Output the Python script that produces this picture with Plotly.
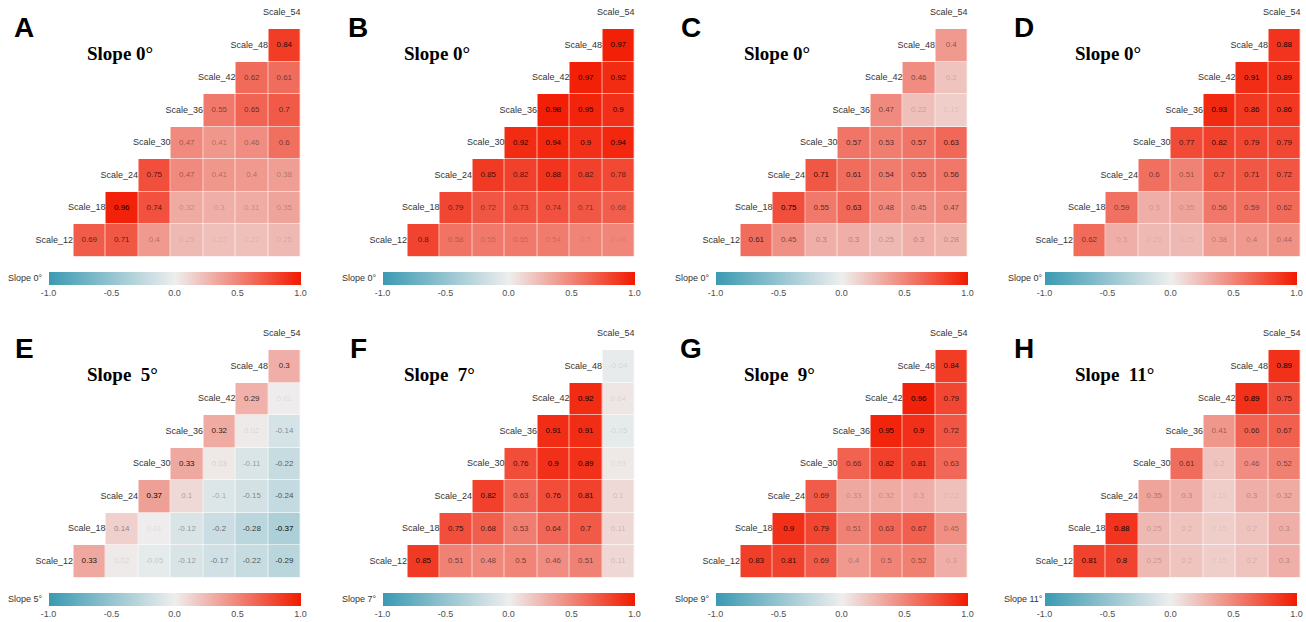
import plotly.graph_objects as go

# Variables shown along the diagonal of every panel
SCALES = ["Scale_12", "Scale_18", "Scale_24", "Scale_30",
          "Scale_36", "Scale_42", "Scale_48", "Scale_54"]
PANEL_LETTERS = ["A", "B", "C", "D", "E", "F", "G", "H"]
PANEL_TITLES = ["Slope 0°", "Slope 0°", "Slope 0°", "Slope 0°",
                "Slope\u00a0 5°", "Slope\u00a0 7°", "Slope\u00a0 9°", "Slope\u00a0 11°"]
LEGEND_TITLES = ["Slope 0°", "Slope 0°", "Slope 0°", "Slope 0°",
                 "Slope 5°", "Slope 7°", "Slope 9°", "Slope 11°"]
LEGEND_TICKS = [-1.0, -0.5, 0.0, 0.5, 1.0]
LEGEND_TICK_TEXT = ["-1.0", "-0.5", "0.0", "0.5", "1.0"]

# Correlations: one row per scale (Scale_12 ... Scale_48), each row lists
# the correlation with every following scale.
corr_A = [
    [0.69, 0.71, 0.40, 0.25, 0.22, 0.22, 0.25],
    [0.96, 0.74, 0.32, 0.30, 0.31, 0.35],
    [0.75, 0.47, 0.41, 0.40, 0.38],
    [0.47, 0.41, 0.46, 0.60],
    [0.55, 0.65, 0.70],
    [0.62, 0.61],
    [0.84],
]
corr_B = [
    [0.80, 0.58, 0.55, 0.55, 0.54, 0.50, 0.49],
    [0.79, 0.72, 0.73, 0.74, 0.71, 0.68],
    [0.85, 0.82, 0.88, 0.82, 0.78],
    [0.92, 0.94, 0.90, 0.94],
    [0.98, 0.95, 0.90],
    [0.97, 0.92],
    [0.97],
]
corr_C = [
    [0.61, 0.45, 0.30, 0.30, 0.25, 0.30, 0.28],
    [0.75, 0.55, 0.63, 0.48, 0.45, 0.47],
    [0.71, 0.61, 0.54, 0.55, 0.56],
    [0.57, 0.53, 0.57, 0.63],
    [0.47, 0.22, 0.15],
    [0.46, 0.20],
    [0.40],
]
corr_D = [
    [0.62, 0.30, 0.25, 0.25, 0.38, 0.40, 0.44],
    [0.59, 0.30, 0.35, 0.56, 0.59, 0.62],
    [0.60, 0.51, 0.70, 0.71, 0.72],
    [0.77, 0.82, 0.79, 0.79],
    [0.93, 0.86, 0.86],
    [0.91, 0.89],
    [0.88],
]
corr_E = [
    [0.33, 0.02, -0.05, -0.12, -0.17, -0.22, -0.29],
    [0.14, 0.01, -0.12, -0.20, -0.28, -0.37],
    [0.37, 0.10, -0.10, -0.15, -0.24],
    [0.33, 0.03, -0.11, -0.22],
    [0.32, 0.02, -0.14],
    [0.29, 0.01],
    [0.30],
]
corr_F = [
    [0.85, 0.51, 0.48, 0.50, 0.46, 0.51, 0.11],
    [0.75, 0.68, 0.53, 0.64, 0.70, 0.11],
    [0.82, 0.63, 0.76, 0.81, 0.10],
    [0.76, 0.90, 0.89, 0.03],
    [0.91, 0.91, -0.05],
    [0.92, 0.04],
    [-0.04],
]
corr_G = [
    [0.83, 0.81, 0.69, 0.40, 0.50, 0.52, 0.30],
    [0.90, 0.79, 0.51, 0.63, 0.67, 0.45],
    [0.69, 0.33, 0.32, 0.30, 0.22],
    [0.66, 0.82, 0.81, 0.63],
    [0.95, 0.90, 0.72],
    [0.96, 0.79],
    [0.84],
]
corr_H = [
    [0.81, 0.80, 0.25, 0.20, 0.15, 0.20, 0.30],
    [0.88, 0.25, 0.20, 0.15, 0.20, 0.30],
    [0.35, 0.30, 0.15, 0.30, 0.32],
    [0.61, 0.20, 0.46, 0.52],
    [0.41, 0.66, 0.67],
    [0.89, 0.75],
    [0.89],
]
PANELS = [corr_A, corr_B, corr_C, corr_D, corr_E, corr_F, corr_G, corr_H]

W, H = 1306, 622
CELL = 32.5
COLORSCALE = [[0.0, "#3B9AB2"], [0.5, "#EEEEEE"], [1.0, "#F21A00"]]
COL_OFFSET = [0, 334, 667, 1000]
ROW_OFFSET = [0, 321]
BAR_SHIFT = [0, 0, 0, -4]
TITLE_X = [85, 402, 742, 1073]
Y_TOP = 8.1  # leaves room for the last diagonal name above the tiles


def fx(px):
    return px / W


def fy(px):
    return 1 - px / H


fig = go.Figure()
layout_extra = {}
annotations = []
n = len(SCALES)

for k, corr in enumerate(PANELS):
    ox = COL_OFFSET[k % 4]
    oy = ROW_OFFSET[k // 4]
    sfx = "" if k == 0 else str(k + 1)
    ca = "coloraxis" + sfx

    z = [[None] * n for _ in range(n - 1)]
    tx, ty, tt, tc = [], [], [], []
    mags = [abs(v) for row in corr for v in row]
    lo, hi = min(mags), max(mags)
    for i, row in enumerate(corr):
        for m, v in enumerate(row):
            j = i + 1 + m
            z[i][j] = v
            tx.append(j + 1)
            ty.append(i + 1)
            tt.append(f"{round(v, 2):g}")
            a = 0.1 + 0.9 * (abs(v) - lo) / (hi - lo)
            tc.append(f"rgba(0,0,0,{a:.3f})")

    fig.add_trace(go.Heatmap(
        x=list(range(1, n + 1)), y=list(range(1, n)), z=z,
        coloraxis=ca, xgap=0.6, ygap=0.6, hoverongaps=False,
        xaxis="x" + sfx, yaxis="y" + sfx,
    ))
    # correlation values inside the tiles
    fig.add_trace(go.Scatter(
        x=tx, y=ty, text=tt, mode="text", cliponaxis=False,
        textfont=dict(family="Liberation Sans, Arial", size=8, color=tc),
        xaxis="x" + sfx, yaxis="y" + sfx, showlegend=False, hoverinfo="skip",
    ))
    # variable names on the diagonal
    fig.add_trace(go.Scatter(
        x=[i - 0.08 for i in range(1, n + 1)], y=list(range(1, n + 1)),
        text=SCALES, mode="text", cliponaxis=False,
        textfont=dict(family="Liberation Sans, Arial", size=9, color="#333333"),
        xaxis="x" + sfx, yaxis="y" + sfx, showlegend=False, hoverinfo="skip",
    ))

    y_bottom_px = 256.5 + oy
    y_top_px = y_bottom_px - (Y_TOP - 0.5) * CELL
    layout_extra["xaxis" + sfx] = dict(
        domain=[fx(40.5 + ox), fx(300.5 + ox)], range=[0.5, 8.5],
        visible=False, anchor="y" + sfx, fixedrange=True)
    layout_extra["yaxis" + sfx] = dict(
        domain=[fy(y_bottom_px), fy(y_top_px)], range=[0.5, Y_TOP],
        visible=False, anchor="x" + sfx, fixedrange=True)
    layout_extra[ca] = dict(
        cmin=-1, cmax=1, colorscale=COLORSCALE,
        colorbar=dict(
            orientation="h", x=fx(174.5 + ox + BAR_SHIFT[k % 4]), xanchor="center",
            y=fy(272 + oy), yanchor="top", thickness=13,
            len=252, lenmode="pixels", xpad=0, ypad=0, outlinewidth=0,
            tickvals=LEGEND_TICKS, ticktext=LEGEND_TICK_TEXT, ticks="",
            ticklabeloverflow="allow",
            tickfont=dict(family="Liberation Sans, Arial", size=9, color="#4D4D4D"),
        ))

    annotations.append(dict(
        x=fx(24 + ox), y=fy(28 + oy), xref="paper", yref="paper",
        text=f"<b>{PANEL_LETTERS[k]}</b>", showarrow=False,
        xanchor="center", yanchor="middle",
        font=dict(family="Liberation Sans, Arial", size=28, color="black")))
    annotations.append(dict(
        x=fx(TITLE_X[k % 4]), y=fy(53 + oy), xref="paper", yref="paper",
        text=f"<b>{PANEL_TITLES[k]}</b>", showarrow=False,
        xanchor="left", yanchor="middle",
        font=dict(family="Liberation Serif, Times New Roman", size=19, color="black")))
    annotations.append(dict(
        x=fx(45 + ox), y=fy(278 + oy), xref="paper", yref="paper",
        text=LEGEND_TITLES[k], showarrow=False,
        xanchor="right", yanchor="middle",
        font=dict(family="Liberation Sans, Arial", size=9, color="#333333")))

fig.update_layout(
    width=W, height=H,
    margin=dict(l=0, r=0, t=0, b=0, pad=0, autoexpand=False),
    paper_bgcolor="white", plot_bgcolor="white",
    showlegend=False, annotations=annotations,
    **layout_extra,
)

fig.write_html("out.html")
